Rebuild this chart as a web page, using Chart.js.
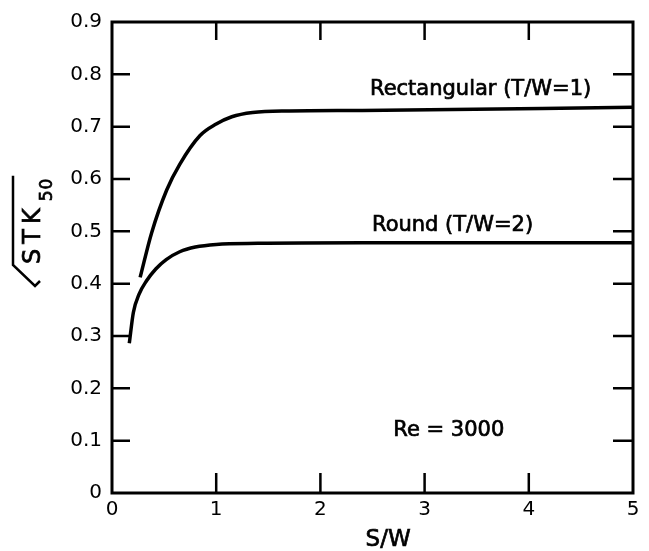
<!DOCTYPE html>
<html>
<head>
<meta charset="utf-8">
<script src="https://cdn.jsdelivr.net/npm/chart.js@4.4.1/dist/chart.umd.min.js"></script>
<style>
  html, body { margin: 0; padding: 0; background: #fff; }
  #wrap { width: 649px; height: 551px; }
</style>
</head>
<body>
<div id="wrap"><canvas id="chart" width="649" height="551"></canvas></div>
<script>
// S/W values and sqrt(STK50)
const rectX = [0.27, 0.38, 0.525, 0.65, 0.845, 1.0, 1.15, 1.35, 1.7, 2.4, 5.0];
const rectY = [0.412, 0.497, 0.579, 0.628, 0.683, 0.705, 0.719, 0.727, 0.730, 0.731, 0.737];
const roundX = [0.166, 0.205, 0.26, 0.33, 0.42, 0.52, 0.65, 0.8, 1.0, 1.4, 2.4, 5.0];
const roundY = [0.286, 0.345, 0.38, 0.405, 0.428, 0.446, 0.461, 0.470, 0.475, 0.477, 0.478, 0.478];

const xTicks = [0, 1, 2, 3, 4, 5];
const yTicks = [0, 0.1, 0.2, 0.3, 0.4, 0.5, 0.6, 0.7, 0.8, 0.9];

// curve labels: text, anchor x, anchor y (data units)
const notes = [
  ['Rectangular (T/W=1)', 2.476, 0.771],
  ['Round (T/W=2)', 2.495, 0.512],
  ['Re = 3000', 2.70, 0.119]
];

const FONT = 'DejaVu Sans';

function pts(xs, ys) {
  return xs.map((x, i) => ({ x: x, y: ys[i] }));
}

// fill then lightly stroke, to get the heavier lettering of the original
function heavyText(ctx, s, x, y) {
  ctx.fillText(s, x, y);
  ctx.strokeText(s, x, y);
}

const framePlugin = {
  id: 'frame',
  afterDraw(chart) {
    const ctx = chart.ctx;
    const a = chart.chartArea;
    const xs = chart.scales.x, ys = chart.scales.y;
    ctx.save();
    ctx.strokeStyle = '#000';
    ctx.lineWidth = 3;
    ctx.strokeRect(a.left, a.top, a.right - a.left, a.bottom - a.top);

    // inward ticks on all four sides
    const tl = 20;
    ctx.lineWidth = 2.5;
    ctx.beginPath();
    xTicks.slice(1, -1).forEach(v => {
      const px = xs.getPixelForValue(v);
      ctx.moveTo(px, a.bottom); ctx.lineTo(px, a.bottom - tl);
      ctx.moveTo(px, a.top); ctx.lineTo(px, a.top + tl - 2);
    });
    yTicks.slice(1, -1).forEach(v => {
      const py = ys.getPixelForValue(v);
      ctx.moveTo(a.left, py); ctx.lineTo(a.left + tl - 2, py);
      ctx.moveTo(a.right, py); ctx.lineTo(a.right - tl, py);
    });
    ctx.stroke();

    // curve labels
    ctx.fillStyle = '#000';
    ctx.lineWidth = 0.7;
    ctx.font = '21px "' + FONT + '"';
    ctx.textBaseline = 'middle';
    ctx.textAlign = 'left';
    notes.forEach(n => {
      heavyText(ctx, n[0], xs.getPixelForValue(n[1]), ys.getPixelForValue(n[2]));
    });

    // x title
    ctx.font = '23px "' + FONT + '"';
    ctx.textAlign = 'center';
    heavyText(ctx, 'S/W', xs.getPixelForValue(2.65), 540);

    // y title: sqrt(STK_50), rotated
    ctx.translate(40, 264);
    ctx.rotate(-Math.PI / 2);
    ctx.textAlign = 'left';
    ctx.textBaseline = 'alphabetic';
    ctx.font = '24px "' + FONT + '"';
    ctx.letterSpacing = '5px';
    heavyText(ctx, 'STK', 0, 0);
    const w = ctx.measureText('STK').width;
    ctx.letterSpacing = '1px';
    ctx.font = '17px "' + FONT + '"';
    heavyText(ctx, '50', w + 2, 12);
    const w2 = ctx.measureText('50').width;
    ctx.lineWidth = 2.5;
    ctx.beginPath();
    ctx.moveTo(w + w2 + 4, -27);
    ctx.lineTo(-1, -27);
    ctx.lineTo(-22, -5);
    ctx.lineTo(-17, 0);
    ctx.stroke();
    ctx.restore();
  }
};

new Chart(document.getElementById('chart'), {
  type: 'line',
  data: {
    datasets: [
      { label: 'Rectangular (T/W=1)', data: pts(rectX, rectY) },
      { label: 'Round (T/W=2)', data: pts(roundX, roundY) }
    ]
  },
  options: {
    responsive: false,
    animation: false,
    layout: { padding: { top: 17, right: 16, left: 0, bottom: 0 } },
    elements: {
      line: { borderColor: '#000', borderWidth: 3.5, cubicInterpolationMode: 'monotone', fill: false },
      point: { radius: 0 }
    },
    plugins: { legend: { display: false }, tooltip: { enabled: false } },
    scales: {
      x: {
        type: 'linear', min: 0, max: 5,
        afterFit(s) { s.height = 58; },
        afterBuildTicks(s) { s.ticks = xTicks.map(v => ({ value: v })); },
        grid: { display: false, drawTicks: false },
        border: { display: false },
        ticks: { padding: 5, color: '#000', font: { family: FONT, size: 20 } }
      },
      y: {
        min: 0, max: 0.9,
        afterFit(s) { s.width = 112; },
        afterBuildTicks(s) { s.ticks = yTicks.map(v => ({ value: v })); },
        grid: { display: false, drawTicks: false },
        border: { display: false },
        ticks: {
          padding: 10, color: '#000', font: { family: FONT, size: 20 },
          callback: v => v === 0 ? '0' : v.toFixed(1)
        }
      }
    }
  },
  plugins: [framePlugin]
});
</script>
</body>
</html>
